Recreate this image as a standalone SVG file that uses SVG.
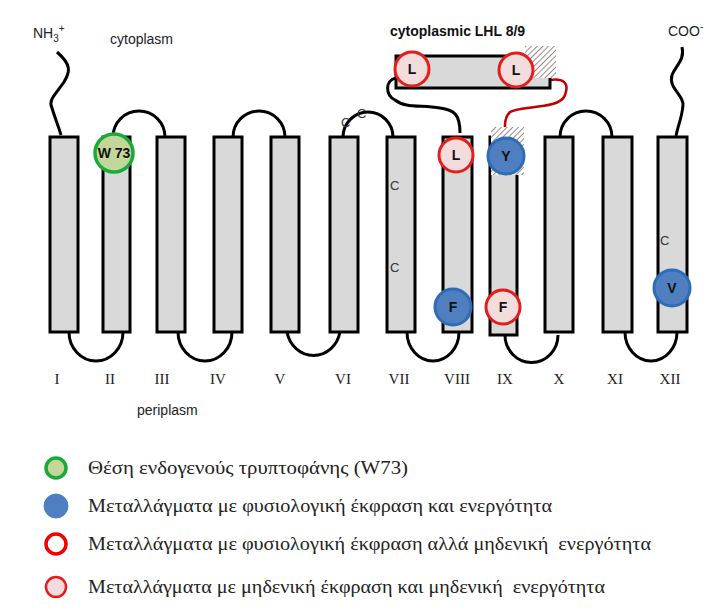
<svg xmlns="http://www.w3.org/2000/svg" width="727" height="611" viewBox="0 0 727 611">
<defs>
<pattern id="hatch" width="4" height="4" patternUnits="userSpaceOnUse" patternTransform="rotate(45)">
<rect width="4" height="4" fill="#fff"/><line x1="0" y1="0" x2="0" y2="4" stroke="#8a6a6a" stroke-width="1.6"/>
</pattern>
<style>
.h{fill:#d9d9d9;stroke:#000;stroke-width:3}
.lp{fill:none;stroke:#000;stroke-width:3}
.s{font-family:"Liberation Sans",Arial,sans-serif;font-size:14px;fill:#222}
.r{font-family:"Liberation Serif","Times New Roman",serif;font-size:15px;fill:#222;text-anchor:middle}
.lg{font-family:"Liberation Serif","Times New Roman",serif;font-size:18px;fill:#222;white-space:pre}
.b{font-family:"Liberation Sans",Arial,sans-serif;font-size:14px;font-weight:bold;fill:#111;text-anchor:middle}
.c{font-family:"Liberation Sans",Arial,sans-serif;font-size:13px;fill:#333}
.blue{fill:#4f7fc0;stroke:#2f6cb8;stroke-width:3}
.red{fill:#f2dcdc;stroke:#e61c1c;stroke-width:3}
</style>
</defs>
<rect width="727" height="611" fill="#fff"/>
<text class="s" x="33" y="38">NH<tspan font-size="10" dy="4">3</tspan><tspan font-size="10" dy="-10">+</tspan></text>
<text class="s" x="110" y="44">cytoplasm</text>
<text class="s" x="137" y="415">periplasm</text>
<text class="s" x="668" y="36">COO<tspan font-size="10" dy="-6">-</tspan></text>
<text x="390" y="36" font-family="Liberation Sans,Arial,sans-serif" font-size="14" font-weight="bold" fill="#111">cytoplasmic LHL 8/9</text>
<g id="connectors">
<path class="lp" d="M57,52 C72,65 70,72 64,82 C55,95 48,100 52,108 C55,118 58,125 61,135"/>
<path class="lp" d="M682,47 C685,60 676,65 672,75 C668,88 684,95 683,105 C682,118 678,125 676,136"/>
<path class="lp" d="M113,137 A26,26 0 0 1 165,137"/>
<path class="lp" d="M233,137 A26,26 0 0 1 285,137"/>
<path class="lp" d="M343,137 A25,25 0 0 1 393,137"/>
<path class="lp" d="M560,137 A26,26 0 0 1 612,137"/>
<path class="lp" d="M69,332 A27,29 0 0 0 123,332"/>
<path class="lp" d="M178,332 A27,29 0 0 0 232,332"/>
<path class="lp" d="M287,332 A27,29 0 0 0 340,332"/>
<path class="lp" d="M407,332 A26,29 0 0 0 459,332"/>
<path class="lp" d="M505,335 A26,27 0 0 0 558,335"/>
<path class="lp" d="M625,332 A26,29 0 0 0 677,332"/>
<path class="lp" d="M396,78 C385,80 385,95 395,100 C405,108 420,105 440,108 C455,110 460,115 460,133"/>
<path fill="none" stroke="#c00000" stroke-width="2.5" d="M550,80 C562,78 570,82 565,95 C560,110 520,105 510,112 C504,118 505,124 505,128"/>
</g>
<g id="helices">
<rect class="h" x="50" y="137" width="28" height="195"/>
<rect class="h" x="103" y="137" width="27" height="195"/>
<rect class="h" x="157" y="137" width="28" height="195"/>
<rect class="h" x="214" y="137" width="28" height="195"/>
<rect class="h" x="271" y="137" width="28" height="195"/>
<rect class="h" x="330" y="137" width="28" height="195"/>
<rect class="h" x="387" y="137" width="28" height="195"/>
<rect class="h" x="443" y="137" width="29" height="195"/>
<rect class="h" x="490" y="137" width="27" height="198" stroke-width="3.5"/>
<rect class="h" x="545" y="137" width="28" height="195"/>
<rect class="h" x="603" y="137" width="29" height="195"/>
<rect class="h" x="658" y="137" width="29" height="195"/>
<rect x="491" y="127" width="33" height="48" fill="url(#hatch)"/>
<rect class="h" x="396" y="56" width="154" height="32"/>
<rect x="525" y="46" width="31" height="32" fill="url(#hatch)"/>
</g>
<g id="cys">
<text class="c" x="341" y="127">C</text>
<text class="c" x="357" y="118">C</text>
<text class="c" x="390" y="190">C</text>
<text class="c" x="390" y="272">C</text>
<text class="c" x="660" y="245">C</text>
</g>
<g id="labels">
<text class="r" x="57" y="384">I</text><text class="r" x="110" y="384">II</text><text class="r" x="162" y="384">III</text><text class="r" x="218" y="384">IV</text><text class="r" x="280" y="384">V</text><text class="r" x="343" y="384">VI</text><text class="r" x="399" y="384">VII</text><text class="r" x="457" y="384">VIII</text><text class="r" x="505" y="384">IX</text><text class="r" x="559" y="384">X</text><text class="r" x="615" y="384">XI</text><text class="r" x="670" y="384">XII</text>
</g>
<g id="W73"><circle cx="114" cy="153" r="19" fill="#c4d79b" stroke="#1aaa3a" stroke-width="3.5"/><text class="b" x="114" y="158">W 73</text></g>
<g id="L1"><circle class="red" cx="412" cy="69" r="17"/><text class="b" x="412" y="74">L</text></g>
<g id="L2"><circle class="red" cx="516" cy="70" r="17"/><text class="b" x="516" y="75">L</text></g>
<g id="L3"><circle class="red" cx="456" cy="155" r="17"/><text class="b" x="456" y="160">L</text></g>
<g id="Y"><circle class="blue" cx="506" cy="156" r="18"/><text class="b" x="506" y="161">Y</text></g>
<g id="F1"><circle class="blue" cx="453" cy="307" r="18"/><text class="b" x="453" y="312">F</text></g>
<g id="F2"><circle class="red" cx="503" cy="307" r="17"/><text class="b" x="503" y="312">F</text></g>
<g id="V"><circle class="blue" cx="672" cy="288" r="18"/><text class="b" x="672" y="293">V</text></g>
<g id="legend">
<circle cx="56" cy="468" r="10" fill="#c4d79b" stroke="#1aaa3a" stroke-width="3.5"/>
<text class="lg" x="88" y="474" textLength="320" lengthAdjust="spacingAndGlyphs">Θέση ενδογενούς τρυπτοφάνης (W73)</text>
<circle cx="56" cy="506" r="12" fill="#4f7fc0" stroke="#4f7fc0"/>
<text class="lg" x="88" y="512" textLength="464" lengthAdjust="spacingAndGlyphs">Μεταλλάγματα με φυσιολογική έκφραση και ενεργότητα</text>
<circle cx="56" cy="544" r="10" fill="#fff" stroke="#f00000" stroke-width="3.5"/>
<text class="lg" x="88" y="550" textLength="563" lengthAdjust="spacingAndGlyphs" xml:space="preserve">Μεταλλάγματα με φυσιολογική έκφραση αλλά μηδενική  ενεργότητα</text>
<circle cx="56" cy="587" r="10" fill="#f2dcdc" stroke="#e61c1c" stroke-width="2.5"/>
<text class="lg" x="88" y="593" textLength="517" lengthAdjust="spacingAndGlyphs" xml:space="preserve">Μεταλλάγματα με μηδενική έκφραση και μηδενική  ενεργότητα</text>
</g>
</svg>
